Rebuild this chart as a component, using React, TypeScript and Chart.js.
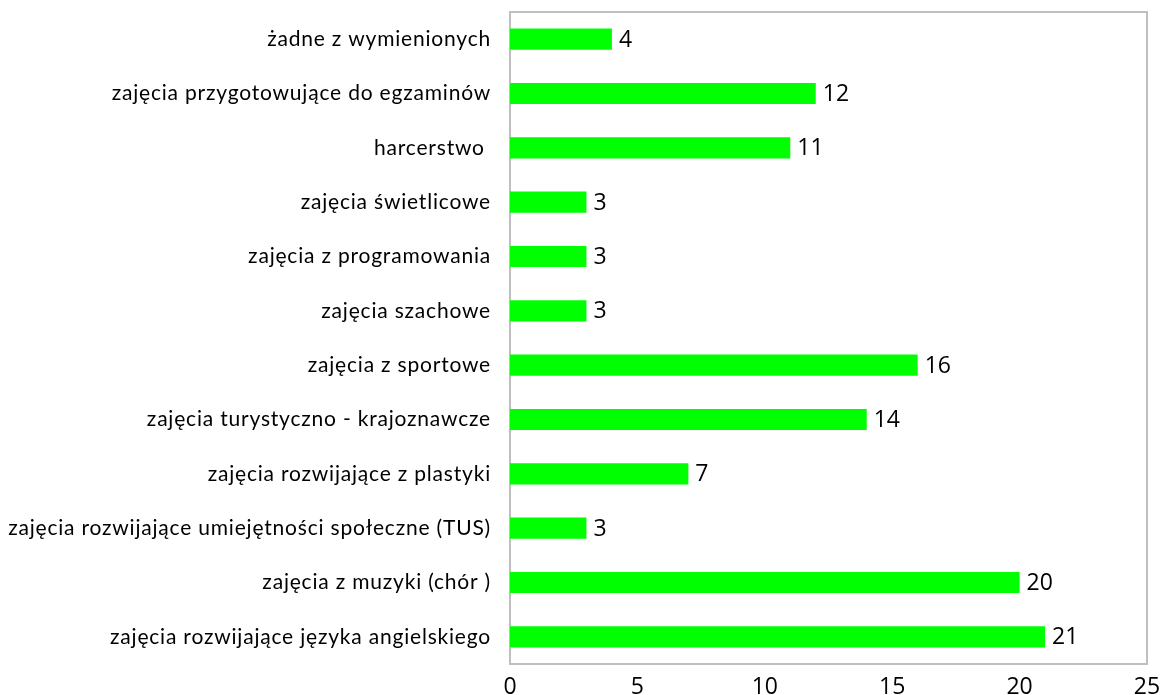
import React, { useEffect, useRef } from "react";
import { Chart, registerables } from "chart.js";

Chart.register(...registerables);

const categories = [
  "żadne z wymienionych",
  "zajęcia przygotowujące do egzaminów",
  "harcerstwo ",
  "zajęcia świetlicowe",
  "zajęcia z programowania",
  "zajęcia szachowe",
  "zajęcia z sportowe",
  "zajęcia turystyczno - krajoznawcze",
  "zajęcia rozwijające z plastyki",
  "zajęcia rozwijające umiejętności społeczne (TUS)",
  "zajęcia z muzyki (chór )",
  "zajęcia rozwijające języka angielskiego",
];

const values = [4, 12, 11, 3, 3, 3, 16, 14, 7, 3, 20, 21];

const xTicks = [0, 5, 10, 15, 20, 25];

const frameAndLabels = {
  id: "frameAndLabels",
  beforeDatasetsDraw(chart: any) {
    const { ctx, chartArea } = chart;
    ctx.save();
    ctx.strokeStyle = "#bfbfbf";
    ctx.lineWidth = 2;
    ctx.strokeRect(chartArea.left, chartArea.top, chartArea.right - chartArea.left, chartArea.bottom - chartArea.top);
    ctx.restore();
  },
  afterDatasetsDraw(chart: any) {
    const { ctx, chartArea } = chart;
    const meta = chart.getDatasetMeta(0);
    ctx.save();
    ctx.fillStyle = "#000";
    ctx.font = "23px 'Open Sans'";
    ctx.textAlign = "left";
    ctx.textBaseline = "middle";
    meta.data.forEach((bar: any, i: number) => {
      ctx.fillText(String(values[i]), bar.x + 7, bar.y + 1);
    });
    // category labels
    ctx.font = "21px Lato";
    ctx.textAlign = "right";
    (ctx as any).letterSpacing = "0.8px";
    meta.data.forEach((bar: any, i: number) => {
      ctx.fillText(categories[i], chartArea.left - 19, bar.y);
    });
    ctx.restore();
  },
};

export default function App() {
  const ref = useRef<HTMLCanvasElement>(null);
  useEffect(() => {
    if (!ref.current) return;
    const chart = new Chart(ref.current, {
      type: "bar",
      data: {
        labels: categories,
        datasets: [
          {
            data: values,
            backgroundColor: "#00ff00",
            borderWidth: 0,
            barPercentage: 0.39,
            categoryPercentage: 1,
          },
        ],
      },
      options: {
        indexAxis: "y",
        animation: false,
        responsive: false,
        maintainAspectRatio: false,
        layout: { padding: { top: 12, right: 17, left: 0, bottom: 0 } },
        plugins: { legend: { display: false }, tooltip: { enabled: false } },
        scales: {
          x: {
            min: 0,
            max: 25,
            afterBuildTicks(scale: any) {
              scale.ticks = xTicks.map((v) => ({ value: v }));
            },
            afterFit(scale: any) {
              scale.height = 31;
              scale.paddingLeft = 0;
              scale.paddingRight = 0;
            },
            grid: { display: false, drawTicks: false },
            border: { display: false },
            ticks: {
              color: "#000",
              padding: 10,
              font: { family: "'Open Sans'", size: 23 },
              maxRotation: 0,
            },
          },
          y: {
            afterFit(scale: any) {
              scale.width = 510;
              scale.paddingTop = 0;
              scale.paddingBottom = 0;
            },
            grid: { display: false, drawTicks: false },
            border: { display: false },
            ticks: {
              display: false,
              autoSkip: false,
            },
          },
        },
      },
      plugins: [frameAndLabels],
    });
    return () => chart.destroy();
  }, []);
  return (
    <div style={{ position: "fixed", left: 0, top: 0, width: 1164, height: 695, background: "#fff" }}>
      <canvas ref={ref} width={1164} height={695} style={{ width: 1164, height: 695, display: "block" }} />
    </div>
  );
}
